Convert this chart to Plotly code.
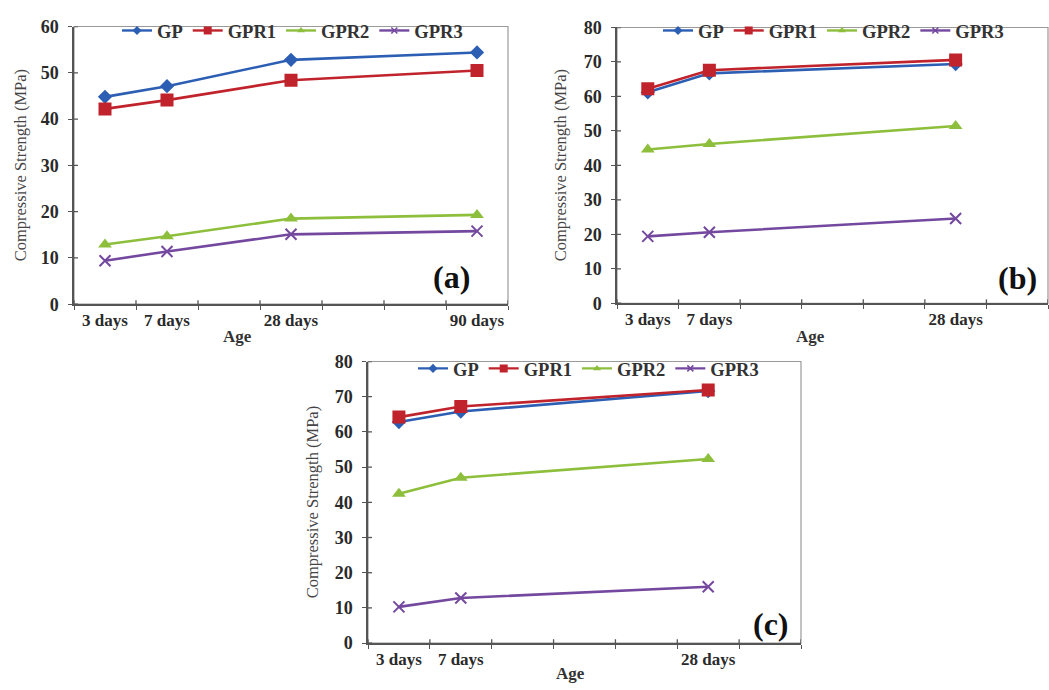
import plotly.graph_objects as go

W, H = 1049, 690

series = ["GP", "GPR1", "GPR2", "GPR3"]
colors = {"GP": "#2c5fb3", "GPR1": "#c0232b", "GPR2": "#8dbf3c", "GPR3": "#73489e"}
symbols = {"GP": "diamond", "GPR1": "square", "GPR2": "triangle-up", "GPR3": "x-thin"}
msize = {"GP": 11, "GPR1": 13, "GPR2": 12, "GPR3": 11}
legsize = {"GP": 7, "GPR1": 8, "GPR2": 7, "GPR3": 6}

# category slots (blank slots are empty categories, as in the original spreadsheet chart)
cats_a = ["3 days", "7 days", "", "28 days", "", "", "90 days"]
cats_bc = ["3 days", "7 days", "", "", "", "28 days", ""]

# (a)
gp_a = [44.8, 47.1, 52.8, 54.4]
gpr1_a = [42.2, 44.1, 48.4, 50.5]
gpr2_a = [12.9, 14.7, 18.5, 19.3]
gpr3_a = [9.4, 11.4, 15.1, 15.8]
# (b)
gp_b = [61.2, 66.7, 69.4]
gpr1_b = [62.2, 67.6, 70.6]
gpr2_b = [44.6, 46.2, 51.4]
gpr3_b = [19.4, 20.6, 24.6]
# (c)
gp_c = [62.8, 65.8, 71.6]
gpr1_c = [64.2, 67.2, 71.9]
gpr2_c = [42.4, 47.0, 52.3]
gpr3_c = [10.3, 12.8, 16.0]

panels = [
    dict(key="", cats=cats_a, data=[gp_a, gpr1_a, gpr2_a, gpr3_a], ymax=60, label="(a)",
         dom_x=(74, 508), dom_y=(17, 303), legend_xy=(117, 2), label_xy=(451, 275),
         age_xy=(237, 336), ytitle_x=20),
    dict(key="2", cats=cats_bc, data=[gp_b, gpr1_b, gpr2_b, gpr3_b], ymax=80, label="(b)",
         dom_x=(617, 1048), dom_y=(18, 302), legend_xy=(658, 2), label_xy=(1017, 276),
         age_xy=(810, 336), ytitle_x=560),
    dict(key="3", cats=cats_bc, data=[gp_c, gpr1_c, gpr2_c, gpr3_c], ymax=80, label="(c)",
         dom_x=(368, 801), dom_y=(362, 652), legend_xy=(413, 350), label_xy=(771, 632),
         age_xy=(570, 683), ytitle_x=312),
]

FONT = "Liberation Serif, Times New Roman, serif"
AXC = "#555555"

fig = go.Figure()
layout = dict(
    width=W, height=H, margin=dict(l=0, r=0, t=0, b=0),
    paper_bgcolor="white", plot_bgcolor="white", showlegend=True,
    annotations=[], shapes=[],
)

for p in panels:
    k = p["key"]
    cats = p["cats"]
    xpos = [i + 0.5 for i, c in enumerate(cats) if c]
    xlab = [c for c in cats if c]
    legname = "legend" + k
    for s, vals in zip(series, p["data"]):
        mk = dict(symbol=symbols[s], size=msize[s], color=colors[s],
                  line=dict(color=colors[s], width=2 if s == "GPR3" else 0))
        fig.add_trace(go.Scatter(
            x=xpos, y=vals, name=s, mode="lines+markers",
            line=dict(color=colors[s], width=2.6), marker=mk,
            xaxis="x" + k, yaxis="y" + k, showlegend=False,
        ))
        # legend-only entry with smaller marker, like the original key
        fig.add_trace(go.Scatter(
            x=[None], y=[None], name=s, mode="lines+markers",
            line=dict(color=colors[s], width=2.4),
            marker=dict(symbol=symbols[s], size=legsize[s], color=colors[s],
                        line=dict(color=colors[s], width=1.5 if s == "GPR3" else 0)),
            xaxis="x" + k, yaxis="y" + k, legend=legname,
        ))
    x0, x1 = p["dom_x"]
    y0, y1 = p["dom_y"]
    nslots = len(cats)
    layout["xaxis" + k] = dict(
        domain=[x0 / W, x1 / W], anchor="y" + k, range=[0, nslots],
        tickmode="array", tickvals=xpos, ticktext=xlab, ticks="",
        showgrid=False, zeroline=False, showline=True, linecolor=AXC, linewidth=1.5,
        tickfont=dict(family=FONT, size=17, color="#2a2a2a", weight="bold"),
        minor=dict(tickmode="array", tickvals=list(range(nslots + 1)), ticks="outside",
                   ticklen=4, tickcolor=AXC, tickwidth=1.3, showgrid=False),
        fixedrange=True,
    )
    layout["yaxis" + k] = dict(
        domain=[1 - y1 / H, 1 - y0 / H], anchor="x" + k, range=[0, p["ymax"]],
        dtick=10, ticks="outside", ticklen=4, tickcolor=AXC, tickwidth=1.3,
        showgrid=False, zeroline=False, showline=True, linecolor=AXC, linewidth=1.5,
        tickfont=dict(family=FONT, size=18, color="#2a2a2a", weight="bold"),
        ticklabelstandoff=6, fixedrange=True,
    )
    # plot-area frame
    layout["shapes"].append(dict(type="rect", xref="x" + k + " domain", yref="y" + k + " domain",
                                 x0=0, x1=1, y0=0, y1=1, line=dict(color="#9a9a9a", width=1.2),
                                 layer="below"))
    # inner halves of cross tick marks
    hh = 4 / (y1 - y0)
    for i in range(nslots + 1):
        layout["shapes"].append(dict(type="line", xref="x" + k, yref="y" + k + " domain",
                                     x0=i, x1=i, y0=0, y1=hh, line=dict(color=AXC, width=1.3)))
    hw = 4 / (x1 - x0)
    for v in range(0, p["ymax"] + 1, 10):
        layout["shapes"].append(dict(type="line", xref="x" + k + " domain", yref="y" + k,
                                     x0=0, x1=hw, y0=v, y1=v, line=dict(color=AXC, width=1.3)))
    lx, ly = p["legend_xy"]
    layout[legname] = dict(
        x=lx / W, y=1 - ly / H, xanchor="left", yanchor="top", orientation="h",
        font=dict(family=FONT, size=18.5, color="#333333", weight="bold"),
        bgcolor="rgba(0,0,0,0)", tracegroupgap=0, itemwidth=30,
    )
    ax, ay = p["label_xy"]
    layout["annotations"].append(dict(
        text=p["label"], x=ax / W, y=1 - ay / H, xref="paper", yref="paper",
        showarrow=False, xanchor="center", yanchor="middle",
        font=dict(family=FONT, size=32, color="#111111", weight="bold")))
    gx, gy = p["age_xy"]
    layout["annotations"].append(dict(
        text="Age", x=gx / W, y=1 - gy / H, xref="paper", yref="paper",
        showarrow=False, xanchor="center", yanchor="middle",
        font=dict(family=FONT, size=17, color="#333333", weight="bold")))
    layout["annotations"].append(dict(
        text="Compressive Strength (MPa)", x=p["ytitle_x"] / W, y=1 - ((y0 + y1) / 2) / H,
        xref="paper", yref="paper", showarrow=False, textangle=-90,
        xanchor="center", yanchor="middle",
        font=dict(family=FONT, size=16.5, color="#444444")))

fig.update_layout(**layout)
fig.write_html("out.html")
